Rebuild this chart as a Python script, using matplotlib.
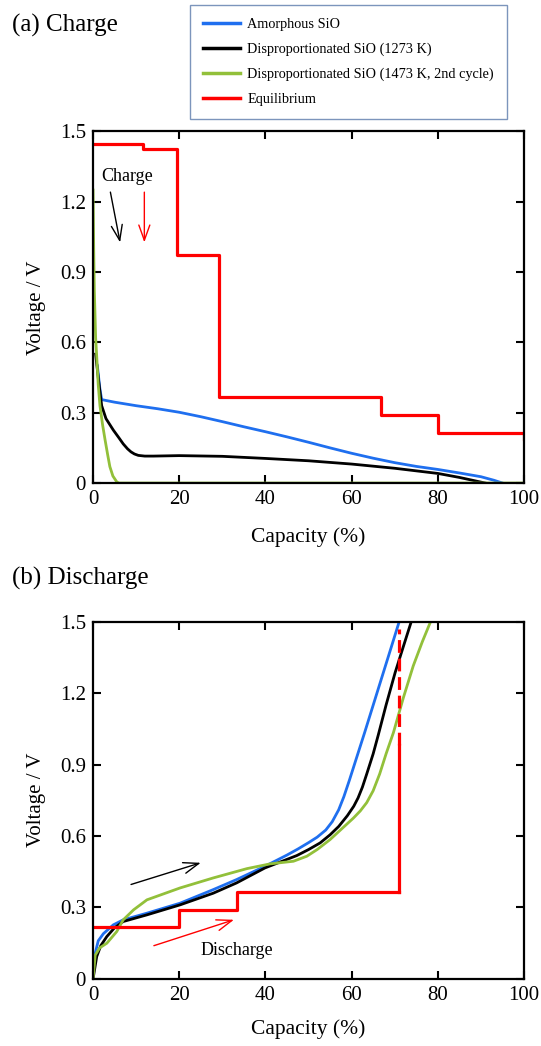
import matplotlib
matplotlib.use('Agg')
import matplotlib.pyplot as plt

plt.rcParams['font.family'] = ['Liberation Serif', 'DejaVu Serif']

# ---- charge curves (capacity %, voltage V)
amor_chg_x = [1.0, 1.6, 2.0, 5, 10, 15, 20, 25, 30, 35, 40, 45, 50, 55, 60, 65, 70, 75, 80, 85, 90, 93, 95]
amor_chg_v = [0.50, 0.40, 0.356, 0.345, 0.330, 0.317, 0.302, 0.283, 0.262, 0.240, 0.219, 0.197, 0.174,
              0.150, 0.127, 0.106, 0.087, 0.071, 0.058, 0.043, 0.027, 0.012, 0.0]

d1273_chg_x = [0.6, 1.2, 2.0, 3.0, 4.7, 6.0, 7.0, 8.0, 8.8, 9.6, 10.5, 12, 14, 20, 30, 40, 50, 60, 70,
               80, 85, 88, 91]
d1273_chg_v = [0.55, 0.45, 0.33, 0.275, 0.226, 0.193, 0.167, 0.146, 0.133, 0.124, 0.118, 0.115, 0.115,
               0.117, 0.114, 0.105, 0.095, 0.081, 0.063, 0.041, 0.024, 0.012, 0.0]

d1473_chg_x = [0, 0.15, 0.3, 0.6, 0.85, 1.2, 1.6, 2.2, 2.8, 3.4, 3.9, 4.6, 5.5, 6.0, 100]
d1473_chg_v = [1.25, 1.0, 0.82, 0.62, 0.54, 0.42, 0.33, 0.25, 0.183, 0.12, 0.07, 0.03, 0.005, 0.0, 0.0]

eq_chg_x = [0, 11.6, 19.5, 29.2, 66.7, 80, 100, 100]
eq_chg_v = [1.445, 1.425, 0.975, 0.365, 0.29, 0.212, 0.212, 0.19]

# ---- discharge curves
amor_dis_x = [0, 0.5, 1.2, 2.4, 4.7, 7, 12.5, 20.2, 27.9, 33.3, 39.9, 45, 47.5, 50, 52, 54, 55.5, 57,
              58.2, 59.5, 61, 63, 65, 67, 69, 71.1]
amor_dis_v = [0.0, 0.108, 0.16, 0.19, 0.227, 0.248, 0.276, 0.318, 0.375, 0.417, 0.473, 0.52, 0.545,
              0.572, 0.595, 0.625, 0.66, 0.71, 0.765, 0.835, 0.92, 1.033, 1.149, 1.265, 1.381, 1.503]

d1273_dis_x = [0, 0.85, 1.8, 3.2, 5, 7, 12.5, 20.2, 27.9, 33.3, 39.9, 47.3, 50, 52.7, 55, 57, 59, 60.5,
               61.5, 62.5, 63.5, 65, 66.2, 68, 70.1, 72, 73.9]
d1273_dis_v = [0.0, 0.094, 0.14, 0.178, 0.215, 0.241, 0.269, 0.311, 0.36, 0.403, 0.466, 0.518, 0.543,
               0.571, 0.605, 0.64, 0.685, 0.725, 0.76, 0.805, 0.86, 0.945, 1.025, 1.15, 1.286, 1.395,
               1.503]

d1473_dis_x = [0, 0.5, 1.5, 3.2, 5.5, 7, 9.4, 12.5, 20.2, 27.9, 35.7, 41.1, 46.5, 49.6, 52, 55, 58,
               60.4, 62, 63.5, 65, 66.5, 68, 69.7, 72, 74.3, 76.4, 78.4]
d1473_dis_v = [0.0, 0.1, 0.13, 0.15, 0.199, 0.248, 0.29, 0.332, 0.382, 0.424, 0.463, 0.483, 0.494,
               0.515, 0.543, 0.585, 0.635, 0.675, 0.705, 0.74, 0.79, 0.86, 0.945, 1.034, 1.18, 1.314,
               1.415, 1.503]

eq_dis_x = [0, 20, 33.3, 71]
eq_dis_v = [0.22, 0.29, 0.367, 0.367]
eq_dis_jump = [0.367, 0.98, 1.47]

labels = ['Amorphous SiO', 'Disproportionated SiO (1273 K)',
          'Disproportionated SiO (1473 K, 2nd cycle)', 'Equilibrium']
colors = ['#1f6fef', '#000000', '#92c03a', '#ff0000']

fig = plt.figure(figsize=(5.41, 10.46), dpi=100)
ax1 = fig.add_axes([0.172, 0.5382, 0.7966, 0.3361])
ax2 = fig.add_axes([0.172, 0.0641, 0.7966, 0.3417])

lw = 2.0
h1, = ax1.plot(amor_chg_x, amor_chg_v, color=colors[0], lw=lw)
h2, = ax1.plot(d1273_chg_x, d1273_chg_v, color=colors[1], lw=lw)
h3, = ax1.plot(d1473_chg_x, d1473_chg_v, color=colors[2], lw=lw)
h4, = ax1.plot(eq_chg_x, eq_chg_v, color=colors[3], lw=2.3, drawstyle='steps-post')

ax2.plot(amor_dis_x, amor_dis_v, color=colors[0], lw=lw)
ax2.plot(d1273_dis_x, d1273_dis_v, color=colors[1], lw=lw)
ax2.plot(d1473_dis_x, d1473_dis_v, color=colors[2], lw=lw)
ax2.plot(eq_dis_x, eq_dis_v, color=colors[3], lw=2.3, drawstyle='steps-post')
ax2.plot([eq_dis_x[-1]] * 2, eq_dis_jump[:2], color=colors[3], lw=2.3)
ax2.plot([eq_dis_x[-1]] * 2, eq_dis_jump[1:], color=colors[3], lw=2.3, ls=(0, (4, 1.8)))

for ax, lp in ((ax1, 13), (ax2, 10)):
    ax.set_xlim(0, 100)
    ax.set_ylim(0, 1.5)
    ax.set_xticks([0, 20, 40, 60, 80, 100])
    ax.set_yticks([0, 0.3, 0.6, 0.9, 1.2, 1.5])
    ax.set_yticklabels(['0', '0.3', '0.6', '0.9', '1.2', '1.5'])
    ax.tick_params(direction='in', top=True, right=True, length=6, width=1.5,
                   labelsize=15, pad=5)
    for s in ax.spines.values():
        s.set_linewidth(1.6)
    ax.set_xlabel('Capacity (%)', fontsize=15.5, labelpad=lp)
    ax.set_ylabel('Voltage / V', fontsize=15, labelpad=10)

# arrows and notes
head = '->,head_length=0.5,head_width=0.18'
ax1.annotate('', xy=(6.4, 1.015), xytext=(3.9, 1.253),
             arrowprops=dict(arrowstyle=head, color='k', lw=1, mutation_scale=22))
ax1.annotate('', xy=(11.9, 1.015), xytext=(11.9, 1.253),
             arrowprops=dict(arrowstyle=head, color='r', lw=1, mutation_scale=22))
ax1.text(8.0, 1.307, 'Charge', fontsize=13, ha='center', va='center')

ax2.annotate('', xy=(25.6, 0.491), xytext=(8.2, 0.393),
             arrowprops=dict(arrowstyle=head, color='k', lw=1, mutation_scale=22))
ax2.annotate('', xy=(33.3, 0.252), xytext=(13.5, 0.136),
             arrowprops=dict(arrowstyle=head, color='r', lw=1, mutation_scale=22))
ax2.text(33.3, 0.119, 'Discharge', fontsize=13, ha='center', va='center')

fig.text(0.022, 0.976, '(a) Charge', fontsize=18, ha='left', va='center')
fig.text(0.022, 0.4474, '(b) Discharge', fontsize=18, ha='left', va='center')

leg = fig.legend([h1, h2, h3, h4], labels, loc='upper left',
                 bbox_to_anchor=(190 / 541, 1 - 5 / 1046), borderaxespad=0, fontsize=10.3,
                 frameon=True, fancybox=False, edgecolor='#5b7bab',
                 handlelength=2.6, labelspacing=0.82, borderpad=0.9, handletextpad=0.5)
leg.get_frame().set_linewidth(1.0)
for ln in leg.get_lines():
    ln.set_linewidth(2.5)

fig.savefig('out.png', dpi=100)
